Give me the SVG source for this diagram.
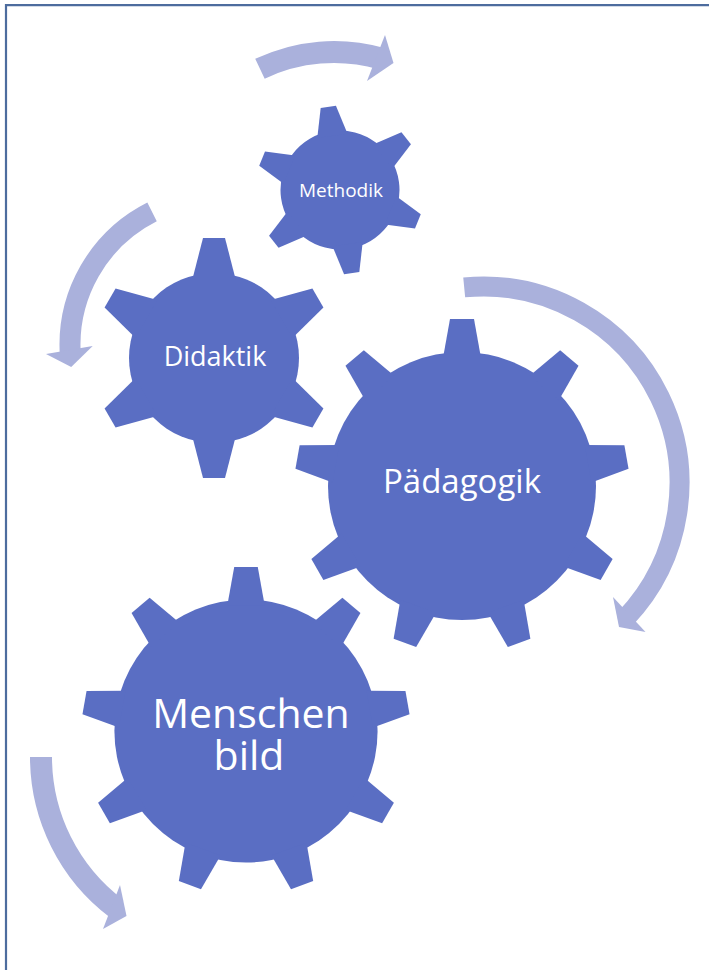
<svg xmlns="http://www.w3.org/2000/svg" width="709" height="970" viewBox="0 0 709 970">
<style>
  .gear { fill: #5a6ec3; }
  .label { fill: #ffffff; font-family: "Open Sans", "Liberation Sans", sans-serif; text-anchor: middle; }
  .band { fill: none; stroke: #aab1dc; }
  .head { fill: #aab1dc; }
  .frame { fill: none; stroke: #4d6c9e; stroke-width: 2.2; }
</style>
<defs>
  <polygon id="t6" points="-21.8,-78 -11,-120 11,-120 21.8,-78"/>
  <polygon id="t9" points="-19,-128 -12,-167 12,-167 19,-128"/>
</defs>
<rect width="709" height="970" fill="#ffffff"/>
<path class="frame" d="M 6 970 V 5.2 H 709"/>

<g id="connectors">
  <path class="band" stroke-width="22" d="M 259.95 68.76 A 172 172 0 0 1 381.4 58.65"/>
  <polygon class="head" points="385,35 393.5,63 367,81"/>
  <path class="band" stroke-width="21" d="M 152.05 211.9 A 149 149 0 0 0 70.36 355.4"/>
  <polygon class="head" points="46,354 92.7,346 71.2,367"/>
  <path class="band" stroke-width="20" d="M 464.2 287.4 A 196.5 196.5 0 0 1 625.5 618.3"/>
  <polygon class="head" points="613,597 645.5,632 619,627"/>
  <path class="band" stroke-width="22" d="M 41 757 A 190 190 0 0 0 116.7 908.7"/>
  <polygon class="head" points="120,885 126.5,916 103,929"/>
</g>

<g id="methodik">
  <g class="gear" transform="translate(340,190) rotate(-8) scale(0.70)">
    <circle r="85"/>
    <use href="#t6"/>
    <use href="#t6" transform="rotate(60)"/>
    <use href="#t6" transform="rotate(120)"/>
    <use href="#t6" transform="rotate(180)"/>
    <use href="#t6" transform="rotate(240)"/>
    <use href="#t6" transform="rotate(300)"/>
  </g>
  <text class="label" x="341" y="197" font-size="19">Methodik</text>
</g>

<g id="didaktik">
  <g class="gear" transform="translate(214,358)">
    <circle r="85"/>
    <use href="#t6"/>
    <use href="#t6" transform="rotate(60)"/>
    <use href="#t6" transform="rotate(120)"/>
    <use href="#t6" transform="rotate(180)"/>
    <use href="#t6" transform="rotate(240)"/>
    <use href="#t6" transform="rotate(300)"/>
  </g>
  <text class="label" x="215" y="366" font-size="27">Didaktik</text>
</g>

<g id="paedagogik">
  <g class="gear" transform="translate(462,486)">
    <circle r="134"/>
    <use href="#t9"/>
    <use href="#t9" transform="rotate(40)"/>
    <use href="#t9" transform="rotate(80)"/>
    <use href="#t9" transform="rotate(120)"/>
    <use href="#t9" transform="rotate(160)"/>
    <use href="#t9" transform="rotate(200)"/>
    <use href="#t9" transform="rotate(240)"/>
    <use href="#t9" transform="rotate(280)"/>
    <use href="#t9" transform="rotate(320)"/>
  </g>
  <text class="label" x="462" y="493" font-size="33">Pädagogik</text>
</g>

<g id="menschenbild">
  <g class="gear" transform="translate(246,731) scale(0.982)">
    <circle r="134"/>
    <use href="#t9"/>
    <use href="#t9" transform="rotate(40)"/>
    <use href="#t9" transform="rotate(80)"/>
    <use href="#t9" transform="rotate(120)"/>
    <use href="#t9" transform="rotate(160)"/>
    <use href="#t9" transform="rotate(200)"/>
    <use href="#t9" transform="rotate(240)"/>
    <use href="#t9" transform="rotate(280)"/>
    <use href="#t9" transform="rotate(320)"/>
  </g>
  <text class="label" x="251" y="728" font-size="41">Menschen</text>
  <text class="label" x="249" y="770" font-size="41">bild</text>
</g>
</svg>
